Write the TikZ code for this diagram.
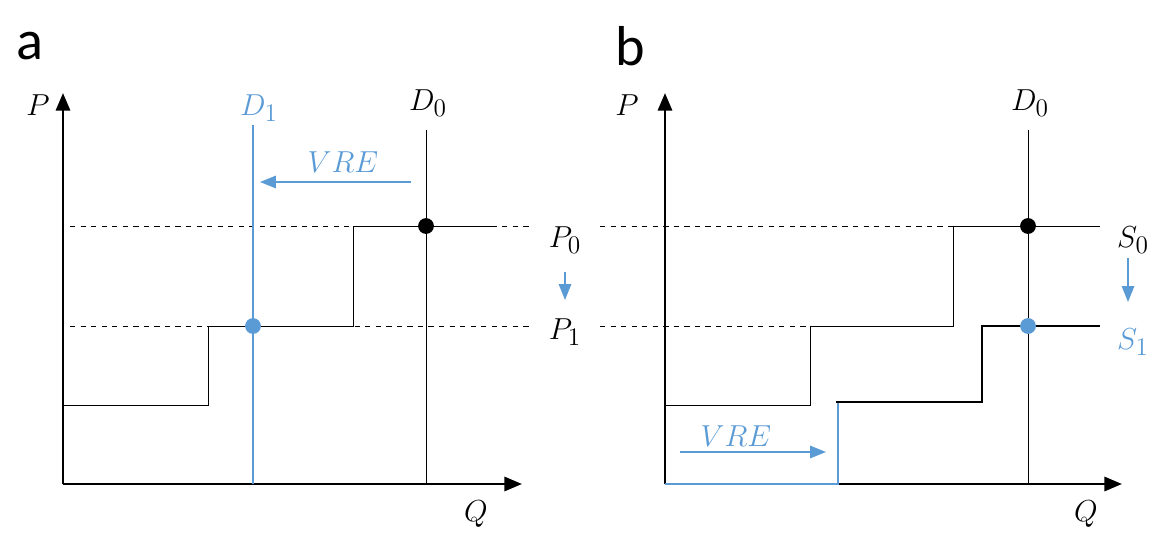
\documentclass[tikz,border=0pt]{standalone}
\usepackage{fontspec}
\setmainfont{Carlito}
\usetikzlibrary{arrows.meta, positioning}
\definecolor{vreblue}{RGB}{91,155,213}
\begin{document}
\begin{tikzpicture}[x=0.02cm, y=-0.02cm,
    axis_style/.style={-{Triangle[length=10pt,width=8pt]}, line width=1.6pt},
    step_style/.style={line width=0.5pt},
    new_style/.style={line width=1.5pt},
    level_style/.style={dashed, line width=0.5pt},
    shift_style/.style={-{Triangle[length=9pt,width=7pt]}, vreblue, line width=1pt},
    dot_style/.style={circle, inner sep=0pt, minimum size=9pt},
    label_style/.style={font=\fontsize{19}{21}\selectfont}
]
    \useasboundingbox (0,0) rectangle (1168,541);

    % Panel a
    \node[font=\fontsize{32}{34}\selectfont] at (30,46) {a};
    \coordinate (a_o) at (63,484);
    \coordinate (a_ytop) at (63,93);
    \coordinate (a_xend) at (522,484);
    \draw[axis_style] (a_o) -- (a_ytop);
    \draw[axis_style] (a_o) -- (a_xend);
    \node[label_style] (a_p) at (38,105) {$P$};
    \node[label_style] (a_q) at (476,514) {$Q$};

    \draw[level_style] (70,226) coordinate (a_l0) -- (532,226) coordinate (a_r0);
    \draw[level_style] (70,326) coordinate (a_l1) -- (532,326) coordinate (a_r1);
    \node[label_style] (a_p0) at (565,240) {$P_0$};
    \node[label_style] (a_p1) at (565,332) {$P_1$};
    \coordinate (a_dn0) at (565,272);
    \coordinate (a_dn1) at (565,300);
    \draw[shift_style] (a_dn0) -- (a_dn1);

    \draw[step_style] (63,405) -- (208,405) -- (208,326) -- (353,326) -- (353,226) -- (497,226);

    \coordinate (a_d0top) at (426,130);
    \coordinate (a_d0bot) at (426,484);
    \draw[step_style] (a_d0top) -- (a_d0bot);
    \node[label_style] (a_d0) at (428,103) {$D_0$};
    \coordinate (a_d1top) at (253,125);
    \coordinate (a_d1bot) at (253,484);
    \draw[vreblue, line width=1.5pt] (a_d1top) -- (a_d1bot);
    \node[label_style, text=vreblue] (a_d1) at (259,108) {$D_1$};

    \coordinate (a_vs) at (411,182);
    \coordinate (a_ve) at (260,182);
    \draw[shift_style] (a_vs) -- (a_ve);
    \node[label_style, text=vreblue] (a_vre) at (343,162) {$VRE$};

    \node[dot_style, fill=black] (a_e0) at (426,226) {};
    \node[dot_style, fill=vreblue] (a_e1) at (253,326) {};

    % Panel b
    \node[font=\fontsize{32}{34}\selectfont] at (630,46) {b};
    \coordinate (b_o) at (665,484);
    \coordinate (b_ytop) at (665,93);
    \coordinate (b_xend) at (1122,484);
    \draw[axis_style] (b_o) -- (b_ytop);
    \draw[axis_style] (b_o) -- (b_xend);
    \node[label_style] (b_p) at (627,105) {$P$};
    \node[label_style] (b_q) at (1086,514) {$Q$};

    \draw[level_style] (600,226) coordinate (b_l0) -- (953,226) coordinate (b_r0);
    \draw[level_style] (600,326) coordinate (b_l1) -- (810,326) coordinate (b_r1);

    \draw[step_style] (665,405) -- (810,405) -- (810,326) -- (953,326) -- (953,226) -- (1100,226);
    \draw[new_style, vreblue] (665,484) -- (838,484) -- (838,402);
    \draw[new_style] (836,402) -- (982,402) -- (982,326) -- (1100,326);

    \coordinate (b_d0top) at (1028,130);
    \coordinate (b_d0bot) at (1028,484);
    \draw[step_style] (b_d0top) -- (b_d0bot);
    \node[label_style] (b_d0) at (1030,103) {$D_0$};

    \node[label_style] (b_s0) at (1133,240) {$S_0$};
    \node[label_style, text=vreblue] (b_s1) at (1133,342) {$S_1$};
    \coordinate (b_dn0) at (1128,258);
    \coordinate (b_dn1) at (1128,302);
    \draw[shift_style] (b_dn0) -- (b_dn1);

    \coordinate (b_vs) at (680,452);
    \coordinate (b_ve) at (826,452);
    \draw[shift_style] (b_vs) -- (b_ve);
    \node[label_style, text=vreblue] (b_vre) at (736,436) {$VRE$};

    \node[dot_style, fill=black] (b_e0) at (1028,226) {};
    \node[dot_style, fill=vreblue] (b_e1) at (1028,326) {};
\end{tikzpicture}
\end{document}
